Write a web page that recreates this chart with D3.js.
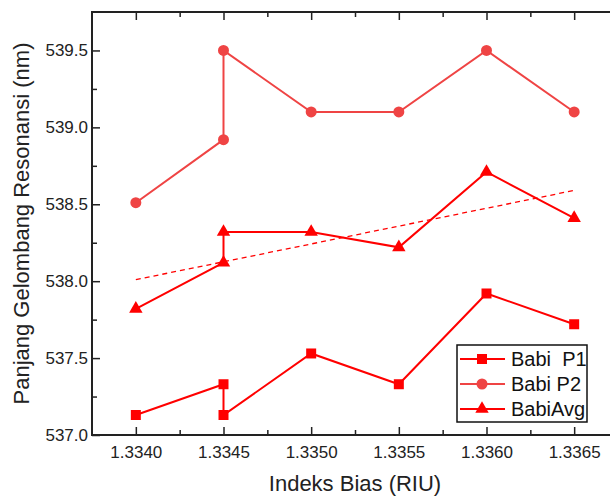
<!DOCTYPE html>
<html>
<head>
<meta charset="utf-8">
<script src="https://cdn.jsdelivr.net/npm/d3@7"></script>
<style>
  body { margin: 0; background: #fff; }
  svg { font-family: "Liberation Sans", Arial, sans-serif; }
</style>
</head>
<body>
<script>
// refractive index (RIU); 1.3345 is measured twice
var indeks = [1.3340, 1.3345, 1.3345, 1.3350, 1.3355, 1.3360, 1.3365];

// resonance wavelength (nm)
var babiP1 = [537.13, 537.33, 537.13, 537.53, 537.33, 537.92, 537.72];
var babiP2 = [538.51, 538.92, 539.50, 539.10, 539.10, 539.50, 539.10];
var babiAvg = [537.82, 538.12, 538.32, 538.32, 538.22, 538.71, 538.41];

// linear fit of the average, end points
var fitX = [1.3340, 1.3365];
var fitY = [538.01, 538.59];

var xTicks = [1.3340, 1.3345, 1.3350, 1.3355, 1.3360, 1.3365];
var xMinor = [1.33425, 1.33475, 1.33525, 1.33575, 1.33625];
var yTicks = [537.0, 537.5, 538.0, 538.5, 539.0, 539.5];
var yMinor = [537.25, 537.75, 538.25, 538.75, 539.25];

var seriesNames = ["Babi  P1", "Babi P2", "BabiAvg"];

// chart box
var width = 610;
var height = 497;
var boxLeft = 92, boxRight = 618, boxTop = 12, boxBottom = 435;

var red = "#ff0000";
var lightRed = "#ef4444";

var svg = d3.select("body")
            .append("svg")
            .attr("width", width)
            .attr("height", height);

var xScale = d3.scaleLinear()
               .domain([1.33375, 1.33675])
               .range([boxLeft, boxRight]);
var yScale = d3.scaleLinear()
               .domain([537.0, 539.75])
               .range([boxBottom, boxTop]);

// axes, ticks all pointing inward
function addAxis(axis, tx, ty, labels) {
  var g = svg.append("g")
     .attr("transform", "translate(" + [tx, ty] + ")")
     .call(axis);
  g.select(".domain").remove();
  g.selectAll("line").attr("stroke", "#222").attr("stroke-width", 1.5);
  g.selectAll("text")
   .attr("fill", "#222")
   .style("font-size", "17px")
   .style("font-family", "Liberation Sans, Arial, sans-serif");
  if (!labels) g.selectAll("text").remove();
}

var fx = d3.format(".4f");
var fy = d3.format(".1f");

addAxis(d3.axisBottom(xScale).tickValues(xTicks).tickFormat(fx)
          .tickSizeInner(-8).tickSizeOuter(0).tickPadding(11), 0, boxBottom, true);
addAxis(d3.axisBottom(xScale).tickValues(xMinor).tickSizeInner(-5).tickSizeOuter(0), 0, boxBottom, false);
addAxis(d3.axisTop(xScale).tickValues(xTicks).tickSizeInner(-8).tickSizeOuter(0), 0, boxTop, false);
addAxis(d3.axisTop(xScale).tickValues(xMinor).tickSizeInner(-5).tickSizeOuter(0), 0, boxTop, false);

addAxis(d3.axisLeft(yScale).tickValues(yTicks).tickFormat(fy)
          .tickSizeInner(-8).tickSizeOuter(0).tickPadding(4), boxLeft, 0, true);
addAxis(d3.axisLeft(yScale).tickValues(yMinor).tickSizeInner(-5).tickSizeOuter(0), boxLeft, 0, false);
addAxis(d3.axisRight(yScale).tickValues(yTicks).tickSizeInner(-8).tickSizeOuter(0), boxRight, 0, false);
addAxis(d3.axisRight(yScale).tickValues(yMinor).tickSizeInner(-5).tickSizeOuter(0), boxRight, 0, false);

// frame
svg.append("rect")
   .attr("x", boxLeft)
   .attr("y", boxTop)
   .attr("width", boxRight - boxLeft)
   .attr("height", boxBottom - boxTop)
   .attr("fill", "none")
   .attr("stroke", "#222")
   .attr("stroke-width", 2);

// dashed fit line
var line = d3.line()
             .x(function(d) { return xScale(d[0]); })
             .y(function(d) { return yScale(d[1]); });

svg.append("path")
   .attr("d", line(d3.zip(fitX, fitY)))
   .attr("fill", "none")
   .attr("stroke", red)
   .attr("stroke-width", 1.3)
   .attr("stroke-dasharray", "5,4");

var series = [
  { values: babiP1, color: red, symbol: d3.symbolSquare, size: 100 },
  { values: babiP2, color: lightRed, symbol: d3.symbolCircle, size: 95 },
  { values: babiAvg, color: red, symbol: d3.symbolTriangle, size: 78 }
];

series.forEach(function(s) {
  var pts = d3.zip(indeks, s.values);
  svg.append("path")
     .attr("d", line(pts))
     .attr("fill", "none")
     .attr("stroke", s.color)
     .attr("stroke-width", 2);

  svg.selectAll(null)
     .data(pts)
     .enter()
     .append("path")
     .attr("d", d3.symbol().type(s.symbol).size(s.size))
     .attr("transform", function(d) {
       return "translate(" + [xScale(d[0]), yScale(d[1])] + ")";
     })
     .attr("fill", s.color);
});

// axis titles
svg.append("text")
   .attr("x", (boxLeft + boxRight) / 2)
   .attr("y", 491)
   .attr("text-anchor", "middle")
   .style("font-size", "22px")
   .attr("fill", "#222")
   .text("Indeks Bias (RIU)");

svg.append("text")
   .attr("text-anchor", "middle")
   .attr("transform", "translate(" + [29, (boxTop + boxBottom) / 2] + ") rotate(-90)")
   .style("font-size", "22px")
   .attr("fill", "#222")
   .text("Panjang Gelombang Resonansi (nm)");

// legend
var legend = svg.append("g");
legend.append("rect")
      .attr("x", 457)
      .attr("y", 345)
      .attr("width", 130)
      .attr("height", 77)
      .attr("fill", "#fff")
      .attr("stroke", "#111")
      .attr("stroke-width", 1.5);

var rows = legend.selectAll(".row")
                 .data(series)
                 .enter()
                 .append("g")
                 .attr("class", "row")
                 .attr("transform", function(d, i) {
                   return "translate(0," + (359 + i * 25) + ")";
                 });

rows.append("line")
    .attr("x1", 460)
    .attr("x2", 505)
    .attr("stroke", function(d) { return d.color; })
    .attr("stroke-width", 2);

rows.append("path")
    .attr("d", function(d) { return d3.symbol().type(d.symbol).size(d.size)(); })
    .attr("transform", "translate(482,0)")
    .attr("fill", function(d) { return d.color; });

rows.append("text")
    .attr("x", 511)
    .attr("y", 7)
    .style("font-size", "20px")
    .style("white-space", "pre")
    .attr("fill", "#111")
    .text(function(d, i) { return seriesNames[i]; });
</script>
</body>
</html>
